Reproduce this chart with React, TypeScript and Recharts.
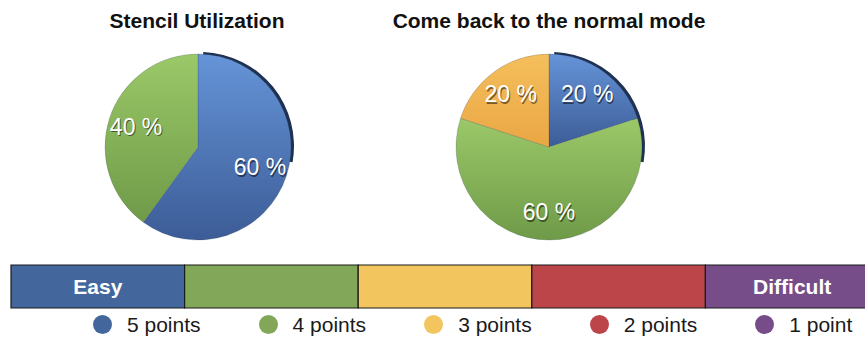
import { PieChart, Pie, Cell, BarChart, Bar, XAxis, YAxis, LabelList } from 'recharts';

// pie 1: Stencil Utilization
const stencilNames = ['5 points', '4 points'];
const stencilValues = [60, 40];

// pie 2: Come back to the normal mode
const normalNames = ['5 points', '4 points', '3 points'];
const normalValues = [20, 60, 20];

// difficulty scale + legend
const levelKeys = ['p5', 'p4', 'p3', 'p2', 'p1'];
const levelNames = ['5 points', '4 points', '3 points', '2 points', '1 point'];
const levelTexts = ['Easy', '', '', '', 'Difficult'];
const levelColors = ['#43679d', '#82a758', '#f2c55f', '#bc454a', '#764d89'];

const gradIds: Record<string, string> = {
    '5 points': 'url(#gBlue)',
    '4 points': 'url(#gGreen)',
    '3 points': 'url(#gOrange)',
};

const FONT = '"Liberation Sans", Arial, Helvetica, sans-serif';
const RAD = Math.PI / 180;

const stencilData = stencilNames.map((name, i) => ({ name, value: stencilValues[i] }));
const normalData = normalNames.map((name, i) => ({ name, value: normalValues[i] }));
const levelRow = [
    levelKeys.reduce((acc: any, k) => { acc[k] = 1; return acc; }, { name: 'level' }),
];

const renderLabel = (props: any) => {
    const { cx, cy, midAngle, outerRadius, value } = props;
    const r = outerRadius * 0.7;
    const x = cx + r * Math.cos(-midAngle * RAD);
    const y = cy + r * Math.sin(-midAngle * RAD);
    const txt = `${value} %`;
    return (
        <g>
            <text x={x + 1} y={y + 1.5} textAnchor="middle" dominantBaseline="central"
                fill="#000" fillOpacity={0.5} fontSize={23} fontFamily={FONT}>{txt}</text>
            <text x={x} y={y} textAnchor="middle" dominantBaseline="central"
                fill="#fff" fontSize={23} fontFamily={FONT}>{txt}</text>
        </g>
    );
};

const PieBlock = ({ data, cx }: { data: any[]; cx: number }) => (
    <>
        {/* dark rim along the top-right edge */}
        <Pie
            data={[{ name: 'rim', value: 1 }]}
            dataKey="value"
            cx={cx + 2}
            cy={146}
            startAngle={88}
            endAngle={-10}
            innerRadius={86}
            outerRadius={94}
            fill="#1f3152"
            stroke="none"
            isAnimationActive={false}
        />
        <Pie
            data={data}
            dataKey="value"
            cx={cx}
            cy={147}
            startAngle={90}
            endAngle={-270}
            outerRadius={93}
            stroke="#2b3a4a"
            strokeOpacity={0.35}
            strokeWidth={0.6}
            label={renderLabel}
            labelLine={false}
            isAnimationActive={false}
        >
            {data.map((d) => (
                <Cell key={d.name} fill={gradIds[d.name]} />
            ))}
        </Pie>
    </>
);

const titleStyle: any = {
    position: 'absolute', top: 10, width: 400, textAlign: 'center', fontSize: 21,
    lineHeight: '21px', fontWeight: 'bold', color: '#111', whiteSpace: 'nowrap',
};

export default function App() {
    return (
        <div style={{ position: 'absolute', left: 0, top: 0, width: 865, height: 339, background: '#fff', fontFamily: FONT, overflow: 'hidden' }}>
            <div style={{ ...titleStyle, left: -3 }}>Stencil Utilization</div>
            <div style={{ ...titleStyle, left: 349 }}>Come back to the normal mode</div>

            <div style={{ position: 'absolute', left: 0, top: 0 }}>
                <PieChart width={865} height={258} margin={{ top: 0, right: 0, bottom: 0, left: 0 }}>
                    <defs>
                        <linearGradient id="gBlue" x1="0" y1="0" x2="0" y2="1">
                            <stop offset="0%" stopColor="#6594d8" />
                            <stop offset="100%" stopColor="#3c5c96" />
                        </linearGradient>
                        <linearGradient id="gGreen" x1="0" y1="0" x2="0" y2="1">
                            <stop offset="0%" stopColor="#9bc868" />
                            <stop offset="100%" stopColor="#6f9a48" />
                        </linearGradient>
                        <linearGradient id="gOrange" x1="0" y1="0" x2="0" y2="1">
                            <stop offset="0%" stopColor="#f5be5c" />
                            <stop offset="100%" stopColor="#eaa744" />
                        </linearGradient>
                    </defs>
                    {PieBlock({ data: stencilData, cx: 198 })}
                    {PieBlock({ data: normalData, cx: 549 })}
                </PieChart>
            </div>

            <div style={{ position: 'absolute', left: 0, top: 258, width: 865, height: 56, overflow: 'hidden' }}>
                <BarChart
                    width={880}
                    height={56}
                    data={levelRow}
                    layout="vertical"
                    margin={{ top: 7, right: 1, bottom: 6, left: 11 }}
                    barCategoryGap={0}
                >
                    <XAxis type="number" domain={[0, levelKeys.length]} hide />
                    <YAxis type="category" dataKey="name" hide />
                    {levelKeys.map((k, i) => (
                        <Bar
                            key={k}
                            dataKey={k}
                            name={levelNames[i]}
                            stackId="lvl"
                            fill={levelColors[i]}
                            stroke="#1a1a1a"
                            strokeWidth={1.2}
                            isAnimationActive={false}
                        >
                            {levelTexts[i] && (
                                <LabelList
                                    dataKey={k}
                                    position="center"
                                    formatter={() => levelTexts[i]}
                                    fill="#fff"
                                    fontSize={21}
                                    fontWeight="bold"
                                    fontFamily={FONT}
                                />
                            )}
                        </Bar>
                    ))}
                </BarChart>
            </div>

            <div style={{ position: 'absolute', left: 93, top: 314, display: 'flex', alignItems: 'center', gap: 58, fontSize: 21, lineHeight: '21px', color: '#1a1a1a' }}>
                {levelNames.map((n, i) => (
                    <div key={n} style={{ display: 'flex', alignItems: 'center' }}>
                        <span style={{ width: 19, height: 19, borderRadius: '50%', background: levelColors[i], display: 'inline-block', marginRight: 15 }} />
                        <span>{n}</span>
                    </div>
                ))}
            </div>
        </div>
    );
}
